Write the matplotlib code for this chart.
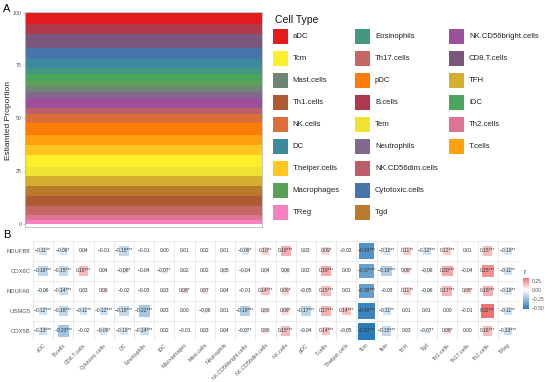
import numpy as np
import matplotlib
matplotlib.use("Agg")
import matplotlib.pyplot as plt
from matplotlib.colors import LinearSegmentedColormap, Normalize
from matplotlib.patches import Rectangle

plt.rcParams['font.family'] = ['Liberation Sans', 'DejaVu Sans']

# ---------------- data ----------------
cell_types = ["aDC", "B.cells", "CD8.T.cells", "Cytotoxic.cells", "DC", "Eosinophils",
              "iDC", "Macrophages", "Mast.cells", "Neutrophils", "NK.CD56bright.cells",
              "NK.CD56dim.cells", "NK.cells", "pDC", "T.cells", "T.helper.cells", "Tcm",
              "Tem", "TFH", "Tgd", "Th1.cells", "Th17.cells", "Th2.cells", "TReg"]
# mean estimated proportion (%) of each cell type (top of stack -> bottom)
proportions = [5.2, 4.7, 6.8, 5.0, 4.4, 2.7, 3.1, 2.7, 2.8, 2.8, 5.0, 2.8,
               4.2, 5.5, 4.7, 4.7, 6.0, 4.2, 4.7, 4.7, 4.7, 3.9, 2.4, 2.0]
legend_order = ["aDC", "Tcm", "Mast.cells", "Th1.cells", "NK.cells", "DC",
                "T.helper.cells", "Macrophages", "TReg",
                "Eosinophils", "Th17.cells", "pDC", "B.cells", "Tem", "Neutrophils",
                "NK.CD56dim.cells", "Cytotoxic.cells", "Tgd",
                "NK.CD56bright.cells", "CD8.T.cells", "TFH", "iDC", "Th2.cells", "T.cells"]

genes = ["NDUFB8", "COX6C", "NDUFA6", "USMG5", "COX5B"]
r_NDUFB8 = [-0.11, -0.09, 0.04, -0.01, -0.15, -0.01, 0.00, 0.01, 0.02, 0.01, -0.09, 0.10,
            0.18, 0.03, 0.09, -0.02, -0.43, -0.10, 0.11, -0.12, 0.12, 0.01, 0.15, -0.10]
r_COX6C = [-0.16, -0.15, 0.16, 0.04, -0.08, -0.04, -0.07, 0.02, 0.02, 0.05, -0.04, 0.04,
           0.06, 0.02, 0.19, 0.00, -0.37, -0.19, 0.08, -0.06, 0.20, -0.04, 0.25, -0.11]
r_NDUFA6 = [-0.06, -0.14, 0.03, 0.06, -0.02, -0.03, 0.03, 0.08, 0.07, 0.04, -0.01, 0.14,
            0.09, -0.05, 0.15, 0.01, -0.38, -0.03, 0.11, -0.06, 0.17, 0.08, 0.18, -0.10]
r_USMG5 = [-0.12, -0.16, -0.11, -0.12, -0.15, -0.22, 0.03, 0.00, -0.06, 0.01, -0.19, 0.06,
           0.09, -0.17, 0.17, 0.14, -0.48, -0.11, 0.01, 0.01, 0.00, -0.01, 0.32, -0.11]
r_COX5B = [-0.13, -0.23, -0.02, -0.09, -0.10, -0.14, 0.02, -0.01, 0.03, 0.04, -0.07, 0.06,
           0.15, -0.04, 0.14, -0.05, -0.52, -0.15, 0.03, -0.07, 0.08, 0.00, 0.16, -0.13]

sig_NDUFB8 = ["**", "*", "", "", "***", "", "", "", "", "", "*", "**",
              "***", "", "*", "", "***", "**", "**", "***", "***", "", "***", "**"]
sig_COX6C = ["***", "***", "***", "", "*", "", "*", "", "", "", "", "",
             "", "", "***", "", "***", "***", "*", "", "***", "", "***", "**"]
sig_NDUFA6 = ["", "***", "", "", "", "", "", "*", "", "", "", "***",
              "*", "", "***", "", "***", "", "**", "", "***", "*", "***", "**"]
sig_USMG5 = ["***", "***", "**", "***", "***", "***", "", "", "", "", "***", "",
             "*", "***", "***", "***", "***", "**", "", "", "", "", "***", "**"]
sig_COX5B = ["***", "***", "", "*", "**", "***", "", "", "", "", "*", "",
             "***", "", "***", "", "***", "***", "", "*", "*", "", "***", "***"]

r_values = [r_NDUFB8, r_COX6C, r_NDUFA6, r_USMG5, r_COX5B]
sig_values = [sig_NDUFB8, sig_COX6C, sig_NDUFA6, sig_USMG5, sig_COX5B]

# ---------------- styles ----------------
W, H = 550, 382
fig = plt.figure(figsize=(W / 100, H / 100), dpi=100)


def fx(px):
    return px / W


def fy(py):
    return 1 - py / H


set1 = ["#E41A1C", "#377EB8", "#4DAF4A", "#984EA3", "#FF7F00", "#FFFF33", "#A65628", "#F781BF"]
pal_cmap = LinearSegmentedColormap.from_list("set1ramp", set1, N=2048)
n = len(cell_types)
colors = [pal_cmap(i / (n - 1)) for i in range(n)]
color_of = dict(zip(cell_types, colors))

# ---------------- Panel A ----------------
axA = fig.add_axes([fx(25), fy(227), fx(262) - fx(25), fy(12) - fy(227)])
props = np.array(proportions, dtype=float)
props = props / props.sum() * 100
x = [0, 1]
layers = [[p, p] for p in props[::-1]]
axA.stackplot(x, *layers, colors=colors[::-1], linewidth=0)
axA.set_xlim(0, 1)
axA.set_ylim(-1.5, 100.3)
axA.set_xticks([])
axA.set_yticks([0, 25, 50, 75, 100])
axA.tick_params(axis='y', labelsize=3.8, labelcolor='#555555', length=1.5, width=0.4,
                color='#999999', pad=1)
for s in axA.spines.values():
    s.set_color('#BBBBBB')
    s.set_linewidth(0.6)
fig.text(fx(9), fy(120), "Estiamted Proportion", rotation=90, ha='center', va='center',
         fontsize=6, color='#222222')
fig.text(fx(3), fy(9), "A", fontsize=8, ha='left', va='center')
fig.text(fx(3), fy(235), "B", fontsize=8, ha='left', va='center')

# Legend (manual, drawn in pixel coords on an overlay axes)
ov = fig.add_axes([0, 0, 1, 1], zorder=5)
ov.set_xlim(0, W)
ov.set_ylim(H, 0)
ov.axis('off')
ov.patch.set_alpha(0)
ov.text(275, 20, "Cell Type", fontsize=7.5, ha='left', va='center', color='#111111')
col_x = [272.7, 355, 449]
row_y0, row_dy, key = 36, 22.1, 15
for i, name in enumerate(legend_order):
    c, r = divmod(i, 9)
    xk = col_x[c]
    yc = row_y0 + r * row_dy
    ov.add_patch(Rectangle((xk, yc - key / 2), key, key, facecolor=color_of[name],
                           edgecolor='none'))
    ov.text(xk + 20, yc, name, fontsize=5.6, ha='left', va='center', color='#222222')

# ---------------- Panel B ----------------
axB = fig.add_axes([fx(33), fy(341), fx(518) - fx(33), fy(241) - fy(341)])
ncol, nrow = len(cell_types), len(genes)
axB.set_xlim(-0.5, ncol - 0.5)
axB.set_ylim(nrow - 0.5, -0.5)
for k in range(ncol + 1):
    axB.axvline(k - 0.5, color='#E3E3E3', lw=0.5, zorder=0)
for k in range(nrow + 1):
    axB.axhline(k - 0.5, color='#E3E3E3', lw=0.5, zorder=0)

hm_cmap = LinearSegmentedColormap.from_list("bwr2", ["#2B7BBA", "#FFFFFF", "#E41A1C"])
allr = np.array(r_values)
rmax = np.abs(allr).max()
norm = Normalize(-rmax, rmax)
for i, g in enumerate(genes):
    for j in range(ncol):
        r = r_values[i][j]
        s = 0.85 * np.sqrt(abs(r) / rmax)
        axB.add_patch(Rectangle((j - s / 2, i - s / 2), s, s,
                                facecolor=hm_cmap(norm(r)), edgecolor='none', zorder=1))
        lab = f"{r:.2f}".replace("-", "\u2212") + sig_values[i][j]
        axB.text(j, i, lab, ha='center', va='center', fontsize=3.5, color='#333333', zorder=2)

axB.set_xticks(range(ncol))
axB.set_xticklabels(cell_types, rotation=45, ha='right', rotation_mode='anchor',
                    fontsize=3.9, color='#555555')
axB.set_yticks(range(nrow))
axB.set_yticklabels(genes, fontsize=4.2, color='#555555')
axB.tick_params(axis='y', length=0, pad=2)
axB.tick_params(axis='x', length=0, pad=1)
for s in axB.spines.values():
    s.set_visible(False)

# colorbar
rmin_d, rmax_d = allr.min(), allr.max()
cax = fig.add_axes([fx(523), fy(309), fx(529) - fx(523), fy(278) - fy(309)])
grad = np.linspace(rmin_d, rmax_d, 256)[:, None]
cax.imshow(grad, cmap=hm_cmap, norm=norm, aspect='auto', origin='lower',
           extent=[0, 1, rmin_d, rmax_d])
cax.set_xticks([])
cax.yaxis.tick_right()
cbt = [-0.5, -0.25, 0.0, 0.25]
cax.set_yticks(cbt)
cax.set_yticklabels([f"{t:.2f}".replace("-", "\u2212") for t in cbt], fontsize=3.6,
                    color='#555555')
cax.tick_params(axis='y', length=0, pad=2)
for s in cax.spines.values():
    s.set_visible(False)
fig.text(fx(523), fy(272), "r", fontsize=5, ha='left', va='center', color='#333333')

fig.savefig("out.png", dpi=100)
